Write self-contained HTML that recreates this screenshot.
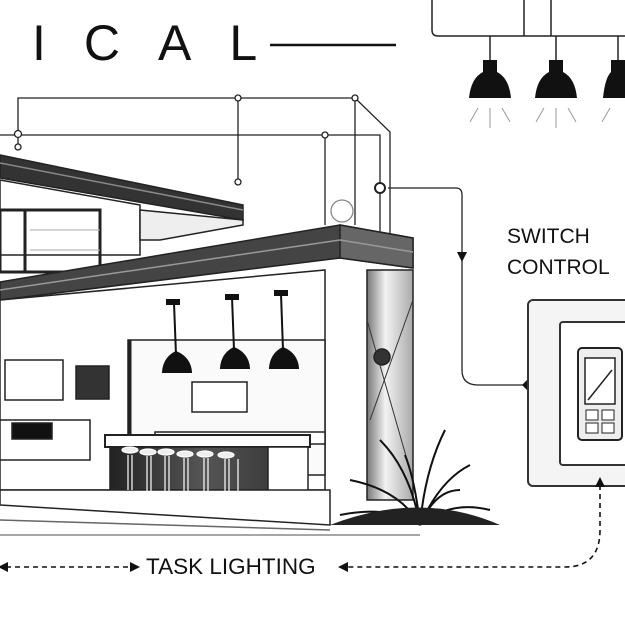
<!DOCTYPE html>
<html><head><style>
html,body{margin:0;padding:0;background:#fff}
svg{display:block}
text{font-family:"Liberation Sans",sans-serif;fill:#111}
</style></head><body>
<svg width="625" height="625" viewBox="0 0 625 625" xmlns="http://www.w3.org/2000/svg">
<defs>
<linearGradient id="col" x1="0" x2="1"><stop offset="0" stop-color="#777"/><stop offset=".4" stop-color="#f2f2f2"/><stop offset="1" stop-color="#aaa"/></linearGradient>
<linearGradient id="isl" x1="0" x2="1"><stop offset="0" stop-color="#222"/><stop offset=".5" stop-color="#555"/><stop offset="1" stop-color="#333"/></linearGradient>
</defs>
<!-- title -->
<text x="32" y="60" font-size="50" letter-spacing="38">ICAL</text>
<line x1="270" y1="45" x2="396" y2="45" stroke="#111" stroke-width="2.5"/>
<!-- top right pendants -->
<g stroke="#222" stroke-width="1.5" fill="none">
<path d="M432 0 V30 Q432 36 438 36 H625"/>
<line x1="524" y1="0" x2="524" y2="36"/><line x1="551" y1="0" x2="551" y2="36"/>
<line x1="490" y1="36" x2="490" y2="60"/><line x1="556" y1="36" x2="556" y2="60"/><line x1="618" y1="36" x2="618" y2="60"/>
</g>
<g fill="#111">
<path d="M483 60h14v12q12 6 14 26h-42q2-20 14-26z"/>
<path d="M549 60h14v12q12 6 14 26h-42q2-20 14-26z"/>
<path d="M611 60h14v38h-22q2-20 8-26z"/>
</g>
<g stroke="#999" stroke-width="1"><path d="M478 108l-8 14M490 108v20M502 108l8 14M544 108l-8 14M556 108v20M568 108l8 14M610 108l-8 14"/></g>
<!-- wiring -->
<g stroke="#222" stroke-width="1.3" fill="none">
<path d="M18 148 V98 H355 L390 132 V265"/>
<path d="M0 135 H380 V258"/>
<line x1="238" y1="98" x2="238" y2="182"/>
<line x1="325" y1="135" x2="325" y2="225"/>
<line x1="355" y1="98" x2="355" y2="225"/>
<path d="M388 188 H456 Q462 188 462 195 V370 Q462 385 478 385 H528"/>
</g>
<g fill="#fff" stroke="#222" stroke-width="1.3">
<circle cx="18" cy="134" r="3.5"/><circle cx="18" cy="147" r="3"/><circle cx="238" cy="98" r="3"/><circle cx="238" cy="182" r="3"/><circle cx="355" cy="98" r="3"/><circle cx="325" cy="135" r="3"/>
<circle cx="342" cy="211" r="11" stroke="#888"/>
<circle cx="380" cy="188" r="5" stroke-width="2"/>
</g>
<path d="M457 252 l5 10 l5 -10z" fill="#111"/>
<path d="M530 377 l8 8 l-8 8 l-8 -8z" fill="#111"/>
<!-- switch text -->
<text x="507" y="243" font-size="21">SWITCH</text>
<text x="507" y="274" font-size="21">CONTROL</text>
<!-- switch plate -->
<rect x="528" y="300" width="110" height="186" rx="5" fill="#f4f4f4" stroke="#333" stroke-width="2"/>
<rect x="560" y="322" width="80" height="143" rx="3" fill="#fff" stroke="#333" stroke-width="2"/>
<rect x="578" y="348" width="44" height="92" rx="4" fill="#eee" stroke="#222" stroke-width="2"/>
<rect x="585" y="358" width="30" height="46" fill="#fff" stroke="#222" stroke-width="1.5"/>
<path d="M588 400 L612 370" stroke="#222" stroke-width="1.5"/>
<g fill="#fff" stroke="#222"><rect x="586" y="410" width="12" height="10"/><rect x="602" y="410" width="12" height="10"/><rect x="586" y="423" width="12" height="10"/><rect x="602" y="423" width="12" height="10"/></g>
<!-- dashed bottom -->
<g stroke="#111" stroke-width="1.6" fill="none" stroke-dasharray="5 4">
<path d="M600 485 V530 Q600 567 565 567 H345"/>
<line x1="6" y1="567" x2="134" y2="567"/>
</g>
<path d="M595 487 l5 -10 l5 10z" fill="#111"/>
<path d="M348 562 l-10 5 l10 5z" fill="#111"/>
<path d="M8 562 l-10 5 l10 5z" fill="#111"/>
<path d="M130 562 l10 5 l-10 5z" fill="#111"/>
<text x="146" y="574" font-size="22.5">TASK LIGHTING</text>
<!-- house -->
<g stroke="#222" stroke-width="1.5">
<polygon points="0,180 140,205 140,255 0,255" fill="#fff"/>
<g stroke="#222" fill="none"><rect x="0" y="210" width="100" height="62" stroke-width="3"/><line x1="25" y1="210" x2="25" y2="272" stroke-width="3"/>
<line x1="30" y1="230" x2="100" y2="230" stroke="#aaa" stroke-width="1"/><line x1="30" y1="250" x2="100" y2="250" stroke="#aaa" stroke-width="1"/></g>
<polygon points="140,210 243,220 243,225 160,240 140,240" fill="#eee"/>
<polygon points="0,155 243,205 243,220 0,178" fill="#333"/>
<line x1="0" y1="163" x2="243" y2="210" stroke="#888"/>
<polygon points="0,300 325,270 325,490 0,490" fill="#fff"/>
<rect x="128" y="340" width="197" height="135" fill="#fafafa"/>
<line x1="130" y1="340" x2="130" y2="480" stroke-width="3"/>
<rect x="5" y="360" width="58" height="40" fill="#fff"/>
<rect x="76" y="366" width="33" height="33" fill="#333"/>
<rect x="0" y="420" width="90" height="40" fill="#fff"/>
<rect x="12" y="423" width="40" height="16" fill="#111"/>
<rect x="192" y="382" width="55" height="30" fill="#fff"/>
<rect x="155" y="432" width="170" height="12" fill="#fff"/>
<rect x="105" y="435" width="205" height="12" fill="#fff" stroke-width="2"/>
<rect x="110" y="447" width="185" height="50" fill="url(#isl)"/>
<rect x="268" y="447" width="40" height="50" fill="#fff"/>
<polygon points="0,490 330,490 330,525 0,505" fill="#fff"/>
<line x1="0" y1="520" x2="330" y2="530" stroke="#666"/>
<line x1="0" y1="535" x2="420" y2="535" stroke="#888"/>
<polygon points="0,282 340,225 413,238 413,268 340,258 0,300" fill="#444"/>
<polygon points="340,225 413,238 413,268 340,258" fill="#666"/>
<line x1="0" y1="290" x2="340" y2="240" stroke="#999"/>
<line x1="340" y1="240" x2="413" y2="252" stroke="#999"/>
<rect x="367" y="270" width="46" height="230" fill="url(#col)"/>
<path d="M367 320 L410 470 M413 300 L370 420" stroke="#333" stroke-width="1"/>
<circle cx="382" cy="357" r="8" fill="#333"/>
</g>
<g stroke="#111" stroke-width="2" fill="#111">
<line x1="174" y1="303" x2="176" y2="355"/><line x1="232" y1="297" x2="234" y2="350"/><line x1="281" y1="294" x2="283" y2="350"/>
<path d="M176 352 q14 6 15 20 h-28 q1-14 13-20z"/>
<path d="M234 348 q14 6 15 20 h-28 q1-14 13-20z"/>
<path d="M283 348 q14 6 15 20 h-28 q1-14 13-20z"/>
<rect x="167" y="300" width="12" height="4"/><rect x="226" y="295" width="12" height="4"/><rect x="275" y="291" width="12" height="4"/>
</g>
<g fill="#eee" stroke="#fff" stroke-width="1.2">
<ellipse cx="130" cy="450" rx="8" ry="3"/><ellipse cx="148" cy="452" rx="8" ry="3"/><ellipse cx="166" cy="452" rx="8" ry="3"/><ellipse cx="185" cy="454" rx="8" ry="3"/><ellipse cx="205" cy="454" rx="8" ry="3"/><ellipse cx="226" cy="455" rx="8" ry="3"/>
<path d="M128 455v35M132 455v35M147 456v35M151 456v35M165 456v36M169 456v36M184 458v35M188 458v35M204 458v36M208 458v36M225 459v37M229 459v37M238 459v37"/>
</g>
<g stroke="#111" stroke-width="2" fill="none">
<path d="M420 525 Q410 470 380 440 M420 525 Q425 470 445 430 M420 525 Q440 480 470 465 M420 525 Q400 490 350 480 M420 525 Q450 500 490 510 M420 525 Q390 505 340 515 M420 525 Q415 480 405 455 M420 525 Q435 490 460 490"/>
</g>
<path d="M330 525 Q420 490 500 525 Z" fill="#222"/>
</svg>
</body></html>
